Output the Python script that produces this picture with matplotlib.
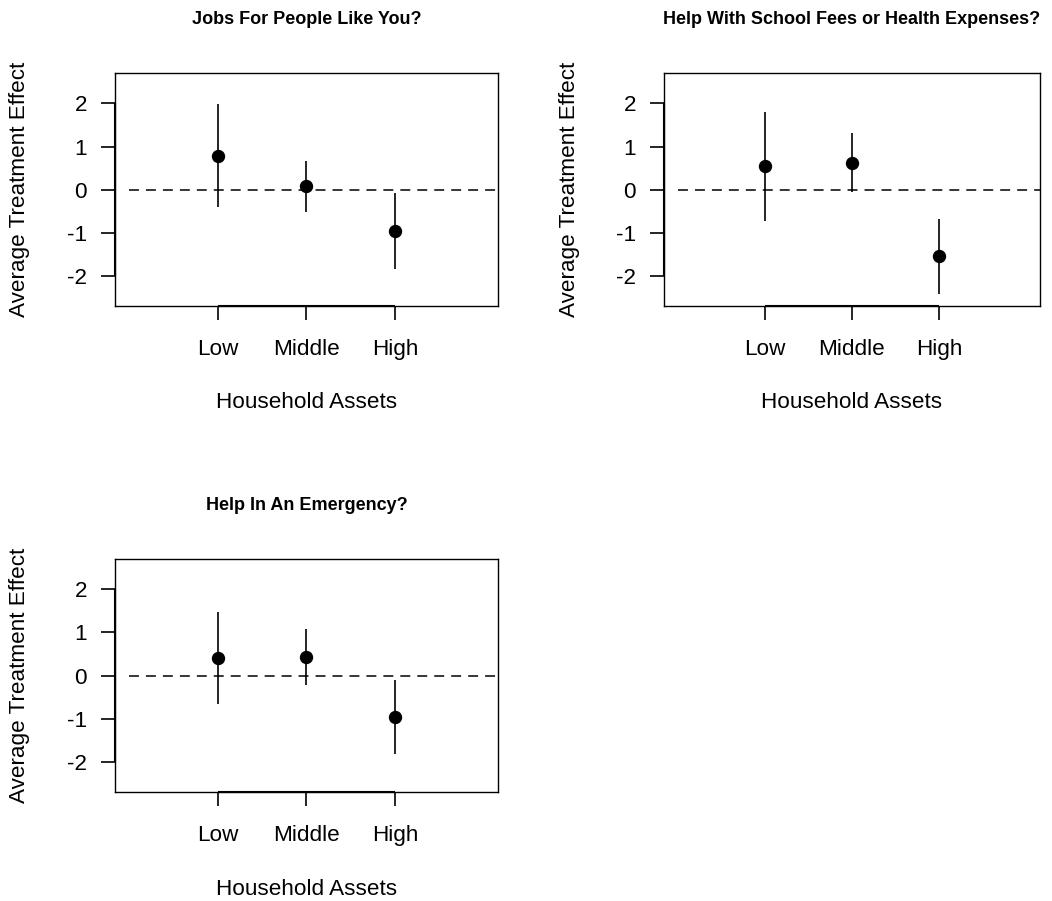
import matplotlib
matplotlib.use("Agg")
import matplotlib.pyplot as plt

# categories and x positions
levels = ["Low", "Middle", "High"]
xpos = [1, 2, 3]

titles = [
    "Jobs For People Like You?",
    "Help With School Fees or Health Expenses?",
    "Help In An Emergency?",
]

# point estimates and confidence bounds per panel
est_jobs = [0.79, 0.08, -0.95]
lo_jobs = [-0.41, -0.51, -1.83]
hi_jobs = [1.98, 0.67, -0.08]

est_fees = [0.55, 0.63, -1.54]
lo_fees = [-0.72, -0.05, -2.41]
hi_fees = [1.81, 1.31, -0.69]

est_emerg = [0.42, 0.43, -0.95]
lo_emerg = [-0.66, -0.22, -1.81]
hi_emerg = [1.48, 1.07, -0.09]

yticks = [-2, -1, 0, 1, 2]

plt.rcParams["font.family"] = ["Liberation Sans", "DejaVu Sans"]

W, H = 1052, 901
fig = plt.figure(figsize=(W / 100, H / 100), dpi=100)

# panel boxes in pixels: left, right, top, bottom
boxes = [
    (115, 497.7, 73.3, 306),
    (664, 1040, 73.3, 306),
    (115, 497.7, 559, 792.3),
]

data = [
    (est_jobs, lo_jobs, hi_jobs),
    (est_fees, lo_fees, hi_fees),
    (est_emerg, lo_emerg, hi_emerg),
]

LW = 1.0
FS = 16.2

for (l, r, t, b), title, (est, lo, hi) in zip(boxes, titles, data):
    ax = fig.add_axes([l / W, (H - b) / H, (r - l) / W, (b - t) / H])
    ax.set_xlim(-0.16, 4.16)
    ax.set_ylim(-2.7, 2.7)
    for s in ax.spines.values():
        s.set_linewidth(LW)

    ax.plot([0, 5], [0, 0], color="black", lw=1.1, linestyle=(0, (6.5, 4.6)))
    ax.vlines(xpos, lo, hi, color="black", lw=1.2)
    ax.plot(xpos, est, "o", color="black", markersize=8.6)

    # axis lines spanning first to last tick, like base R axis()
    ax.plot([xpos[0], xpos[-1]], [-2.7, -2.7], color="black", lw=1.5,
            clip_on=False, solid_capstyle="butt")
    ax.plot([-0.16, -0.16], [yticks[0], yticks[-1]], color="black", lw=1.5,
            clip_on=False, solid_capstyle="butt")

    ax.set_xticks(xpos)
    ax.set_xticklabels(levels)
    ax.set_yticks(yticks)
    ax.set_yticklabels([str(v) for v in yticks])
    ax.tick_params(axis="both", direction="out", length=10, width=1.2,
                   labelsize=FS)
    ax.tick_params(axis="x", pad=13.5)
    ax.tick_params(axis="y", pad=10)

    w, h = r - l, b - t
    ax.text(0.5, 1 + 54 / h, title, transform=ax.transAxes, ha="center",
            va="center", fontsize=13, fontweight="bold")
    ax.text(0.5, -97 / h, "Household Assets", transform=ax.transAxes,
            ha="center", va="center", fontsize=FS)
    ax.text(-95 / w, 0.5, "Average Treatment Effect", transform=ax.transAxes,
            ha="center", va="center", rotation=90, fontsize=FS)

fig.savefig("out.png", dpi=100)
plt.close(fig)
